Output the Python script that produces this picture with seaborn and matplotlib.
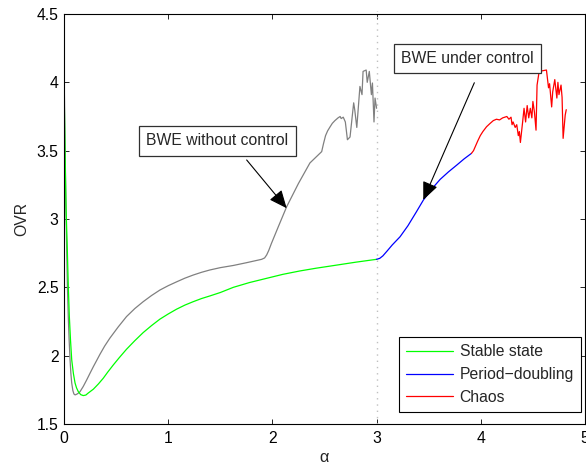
import matplotlib
matplotlib.use("Agg")
import matplotlib.pyplot as plt
import seaborn as sns

# OVR versus alpha: BWE without control (gray) and under control (coloured by regime)
gray_x = [0.0, 0.005, 0.012, 0.018, 0.026, 0.033, 0.041, 0.049, 0.058, 0.066, 0.074, 0.085,
          0.095, 0.106, 0.12, 0.137, 0.154, 0.185, 0.218, 0.25, 0.282, 0.315, 0.345, 0.39,
          0.44, 0.52, 0.60, 0.68, 0.76, 0.84, 0.92, 1.0, 1.08, 1.16, 1.24, 1.32, 1.40,
          1.50, 1.625, 1.75, 1.897, 1.925, 1.945, 1.965, 1.99, 2.057, 2.137, 2.25,
          2.36, 2.473, 2.49, 2.51, 2.53, 2.55, 2.575, 2.60, 2.63, 2.65, 2.66, 2.68, 2.70,
          2.72, 2.745, 2.78, 2.79, 2.81, 2.84, 2.86, 2.87, 2.90, 2.91, 2.93, 2.95, 2.96,
          2.975, 2.985, 3.0]
gray_y = [4.09, 3.85, 3.45, 3.12, 2.77, 2.50, 2.286, 2.12, 1.97, 1.87, 1.80, 1.745,
          1.72, 1.713, 1.717, 1.725, 1.737, 1.775, 1.823, 1.872, 1.92, 1.967, 2.01, 2.07,
          2.128, 2.21, 2.286, 2.345, 2.395, 2.44, 2.48, 2.512, 2.54, 2.567, 2.59, 2.61, 2.627,
          2.644, 2.66, 2.68, 2.705, 2.715, 2.737, 2.77, 2.82, 2.944, 3.09, 3.26,
          3.41, 3.493, 3.55, 3.61, 3.645, 3.67, 3.70, 3.72, 3.74, 3.75, 3.735, 3.745, 3.71,
          3.58, 3.60, 3.85, 3.80, 3.67, 3.97, 3.91, 4.08, 4.09, 4.00, 4.08, 3.91, 3.995,
          3.71, 3.885, 3.81]

stable_x = [0.0, 0.006, 0.013, 0.02, 0.032, 0.041, 0.051, 0.062, 0.074, 0.09, 0.106, 0.12,
            0.137, 0.16, 0.185, 0.21, 0.23, 0.282, 0.33, 0.377, 0.42, 0.473, 0.53, 0.60,
            0.68, 0.76, 0.84, 0.92, 1.0, 1.08, 1.16, 1.24, 1.32, 1.40, 1.5, 1.625, 1.78,
            1.945, 2.1, 2.265, 2.42, 2.585, 2.8, 3.0]
stable_y = [4.0, 3.7, 3.35, 3.07, 2.77, 2.51, 2.29, 2.12, 1.97, 1.87, 1.80, 1.765,
            1.737, 1.715, 1.708, 1.712, 1.725, 1.755, 1.793, 1.835, 1.88, 1.932, 1.985, 2.047,
            2.11, 2.169, 2.22, 2.267, 2.305, 2.34, 2.37, 2.395, 2.418, 2.437, 2.462, 2.50, 2.535,
            2.566, 2.595, 2.62, 2.64, 2.659, 2.684, 2.705]

period_x = [3.0, 3.03, 3.06, 3.10, 3.15, 3.225, 3.30, 3.38, 3.45, 3.53, 3.61, 3.69, 3.77,
            3.84, 3.91]
period_y = [2.705, 2.712, 2.73, 2.765, 2.81, 2.87, 2.95, 3.05, 3.14, 3.22, 3.29, 3.345, 3.395,
            3.44, 3.48]

chaos_x = [3.91, 3.93, 3.95, 3.97, 3.995, 4.02, 4.055, 4.09, 4.12, 4.15, 4.18, 4.21, 4.25,
           4.27, 4.29, 4.30, 4.31, 4.33, 4.345, 4.36, 4.37, 4.38, 4.40, 4.415, 4.43, 4.445,
           4.46, 4.475, 4.49, 4.50, 4.515, 4.53, 4.54, 4.56, 4.63, 4.65, 4.66, 4.68, 4.69,
           4.71, 4.73, 4.74, 4.75, 4.77, 4.78, 4.79, 4.81, 4.82]
chaos_y = [3.48, 3.50, 3.535, 3.57, 3.61, 3.64, 3.675, 3.70, 3.72, 3.73, 3.725, 3.74, 3.75,
           3.73, 3.745, 3.69, 3.71, 3.67, 3.69, 3.61, 3.64, 3.56, 3.70, 3.81, 3.71, 3.83,
           3.74, 3.81, 3.74, 3.86, 3.78, 3.65, 3.98, 4.08, 4.09, 3.96, 3.99, 3.82, 3.93,
           4.02, 3.885, 4.00, 3.91, 3.98, 3.89, 3.59, 3.76, 3.80]

x_ticks = [0, 1, 2, 3, 4, 5]
y_ticks = [1.5, 2, 2.5, 3, 3.5, 4, 4.5]
y_tick_labels = ["1.5", "2", "2.5", "3", "3.5", "4", "4.5"]

sns.set_theme(style="white", rc={
    "xtick.direction": "in", "ytick.direction": "in",
    "xtick.top": True, "ytick.right": True,
    "xtick.bottom": True, "ytick.left": True,
    "xtick.major.size": 3.6, "ytick.major.size": 3.6,
    "xtick.major.width": 0.6, "ytick.major.width": 0.6,
    "axes.edgecolor": "black", "axes.linewidth": 0.8,
})
plt.rcParams["font.family"] = ["Liberation Sans", "DejaVu Sans"]

fs = 11.3
fig = plt.figure(figsize=(5.86, 4.66), dpi=100)
ax = fig.add_axes([64 / 586, 42 / 466, 521 / 586, 410 / 466])

lw = 0.9
sns.lineplot(x=gray_x, y=gray_y, sort=False, estimator=None, color="#808080", lw=lw, ax=ax)
sns.lineplot(x=stable_x, y=stable_y, sort=False, estimator=None, color="#00ff00", lw=lw,
             ax=ax, label="Stable state")
sns.lineplot(x=period_x, y=period_y, sort=False, estimator=None, color="#0000ff", lw=lw,
             ax=ax, label="Period\u2212doubling")
sns.lineplot(x=chaos_x, y=chaos_y, sort=False, estimator=None, color="#ff0000", lw=lw,
             ax=ax, label="Chaos")

# boundary between the two experiments
ax.axvline(3, ymin=0, ymax=1.008, color="#c0c0c0", lw=1.0, ls=(0, (1, 3.5)),
           clip_on=False, zorder=1)

ax.set_xlim(0, 5)
ax.set_ylim(1.5, 4.5)
ax.set_xticks(x_ticks)
ax.set_xticklabels([str(t) for t in x_ticks])
ax.set_yticks(y_ticks)
ax.set_yticklabels(y_tick_labels)
ax.tick_params(axis="x", labelsize=fs, pad=5, colors="black")
ax.tick_params(axis="y", labelsize=fs, pad=4, colors="black")
ax.set_xlabel("\u03b1", fontsize=fs + 0.5, labelpad=3)
ax.set_ylabel("OVR", fontsize=fs, labelpad=5)
for s in ax.spines.values():
    s.set_visible(True)
    s.set_color("black")

box = dict(boxstyle="square,pad=0.45", fc="white", ec="#303030", lw=0.9)
ax.text(1.473, 3.571, "BWE without control", fontsize=fs, ha="center", va="center", bbox=box)
ax.text(3.872, 4.174, "BWE under control", fontsize=fs, ha="center", va="center", bbox=box)

arrow = dict(arrowstyle="-|>,head_length=0.55,head_width=0.24", color="black", lw=0.8,
             shrinkA=0, shrinkB=0, mutation_scale=20)
ax.annotate("", xy=(2.137, 3.079), xytext=(1.753, 3.432), arrowprops=arrow)
ax.annotate("", xy=(3.448, 3.14), xytext=(3.938, 3.997), arrowprops=arrow)

leg = ax.legend(loc="lower right", bbox_to_anchor=(1 - 4 / 521, 12 / 410), borderaxespad=0,
                fontsize=fs, frameon=True, fancybox=False, framealpha=1,
                edgecolor="black", handlelength=3.0, handletextpad=0.4,
                labelspacing=0.5, borderpad=0.45)
leg.get_frame().set_linewidth(0.8)
for h in leg.get_lines():
    h.set_linewidth(0.9)

fig.savefig("out.png", dpi=100)
